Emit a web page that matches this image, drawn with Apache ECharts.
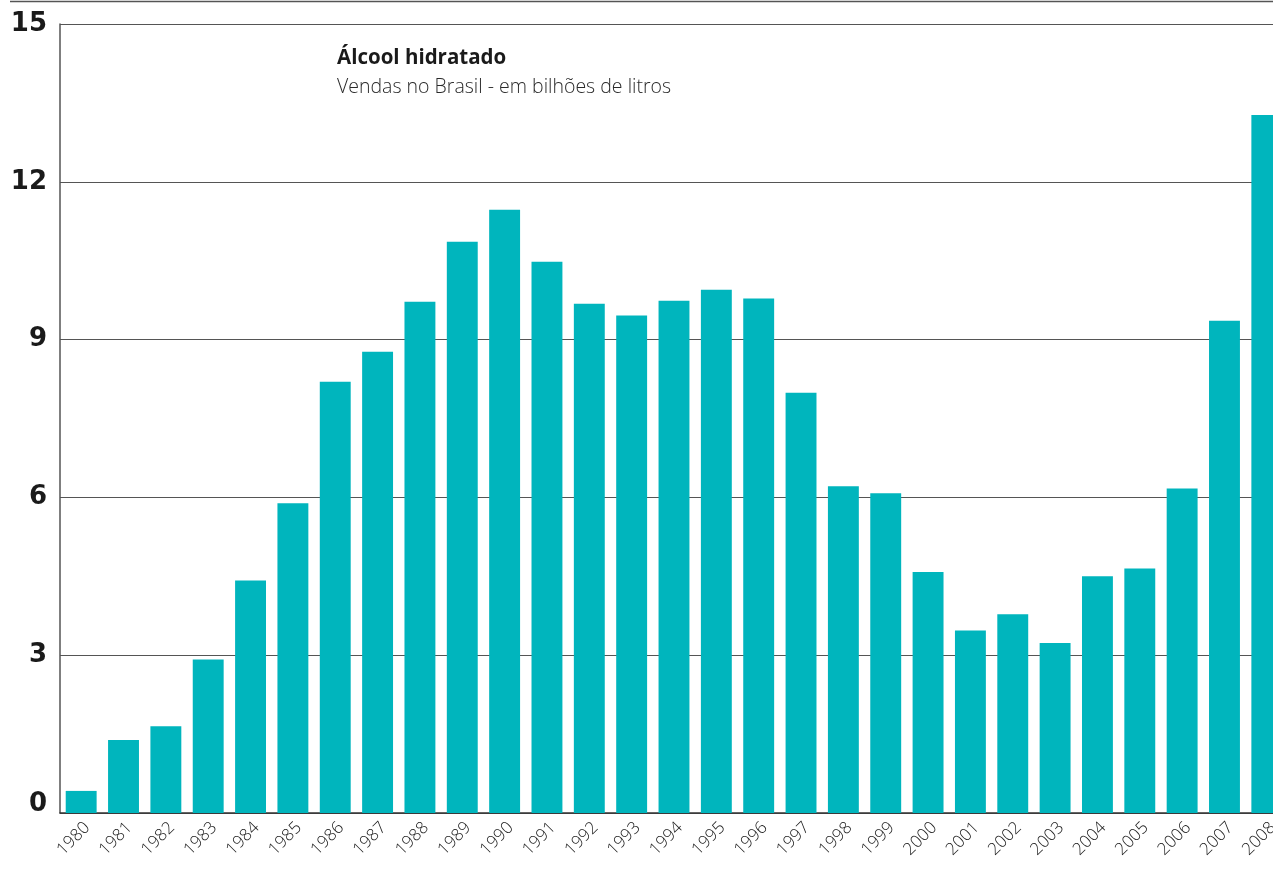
<!DOCTYPE html>
<html>
<head>
<meta charset="utf-8">
<script src="https://cdn.jsdelivr.net/npm/echarts@6/dist/echarts.min.js"></script>
<style>
  html, body { margin: 0; padding: 0; background: #fff; overflow: hidden; }
  /* wider than the window: the last bar is cut at the right edge */
  #chart { width: 1288px; height: 871px; }
</style>
</head>
<body>
<div id="chart"></div>
<script>
// Vendas de álcool hidratado no Brasil, em bilhões de litros
const years = ['1980','1981','1982','1983','1984','1985','1986','1987','1988','1989',
  '1990','1991','1992','1993','1994','1995','1996','1997','1998','1999',
  '2000','2001','2002','2003','2004','2005','2006','2007','2008'];
const sales = [0.42, 1.39, 1.65, 2.92, 4.42, 5.89, 8.20, 8.77, 9.72, 10.86,
  11.47, 10.48, 9.68, 9.46, 9.74, 9.95, 9.78, 7.99, 6.21, 6.08,
  4.58, 3.47, 3.78, 3.23, 4.50, 4.65, 6.17, 9.36, 13.27];
const yTicks = [0, 3, 6, 9, 12, 15];

const chart = echarts.init(document.getElementById('chart'), null, { renderer: 'canvas' });
chart.setOption({
  animation: false,
  backgroundColor: '#ffffff',
  grid: { left: 60, top: 24, right: 0, bottom: 58, containLabel: false },
  graphic: [
    { type: 'line', shape: { x1: 10, y1: 1.5, x2: 1288, y2: 1.5 },
      style: { stroke: '#555', lineWidth: 1.5 } },
    { type: 'text', left: 337, top: 48,
      style: { text: 'Álcool hidratado', font: 'bold 20.5px "Open Sans", "Noto Sans", sans-serif', fill: '#1a1a1a' } },
    { type: 'text', left: 337, top: 77,
      style: { text: 'Vendas no Brasil - em bilhões de litros', font: '300 19.5px "Open Sans", "Noto Sans", sans-serif', fill: '#2a2a2a' } }
  ],
  xAxis: {
    type: 'category',
    data: years,
    axisLine: { lineStyle: { color: '#333', width: 1.5 } },
    axisTick: { show: false },
    axisLabel: {
      rotate: 45, interval: 0, margin: 6,
      verticalAlign: 'top',
      fontFamily: '"Open Sans", "Noto Sans", sans-serif', fontWeight: 300,
      fontSize: 17, color: '#222'
    }
  },
  yAxis: {
    type: 'value', min: 0, max: 15, interval: 3,
    axisLine: { show: true, lineStyle: { color: '#555', width: 1.5 } },
    axisTick: { show: false },
    splitLine: { lineStyle: { color: '#555', width: 1 } },
    axisLabel: {
      margin: 13, fontFamily: '"DejaVu Sans", sans-serif', fontWeight: 'bold',
      fontSize: 26, color: '#1a1a1a',
      // the zero sits a little above the baseline
      formatter: v => v === 0 ? '{z|0}' : (yTicks.includes(v) ? String(v) : ''),
      rich: {
        z: { fontFamily: '"DejaVu Sans", sans-serif', fontWeight: 'bold', fontSize: 26,
             color: '#1a1a1a', padding: [0, 0, 18, 0] }
      }
    }
  },
  series: [{
    type: 'bar',
    data: sales,
    barCategoryGap: '27%',
    itemStyle: { color: '#00b5bd' }
  }]
});
</script>
</body>
</html>
